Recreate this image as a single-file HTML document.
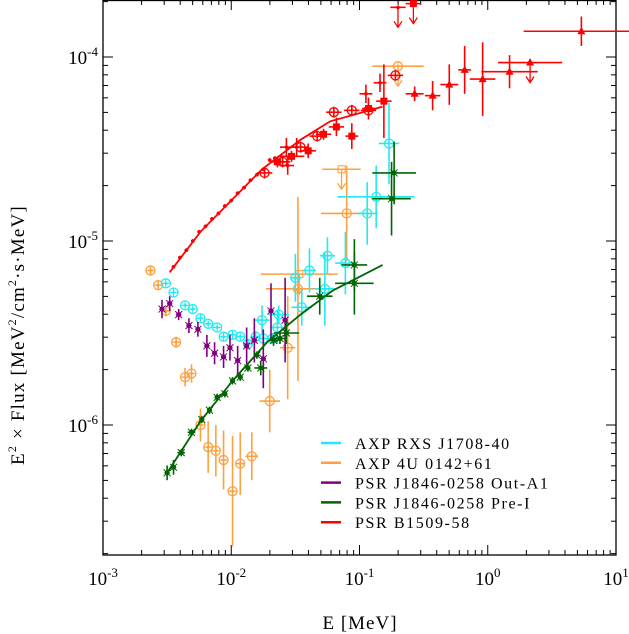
<!DOCTYPE html>
<html><head><meta charset="utf-8">
<style>
body{margin:0;background:#fff;}
svg{display:block;font-family:"Liberation Serif",serif;}
</style></head>
<body>
<svg id="chart" width="629" height="634" viewBox="0 0 629 634"></svg>
<script>
// ---- data (log10 E [MeV], log10 E^2 Flux) ----
const redCurveE=[-2.48,-2.24,-2.00,-1.76,-1.46,-1.23,-0.82];
const redCurveF=[-5.17,-4.95,-4.78,-4.61,-4.45,-4.35,-4.27];
const redDotE=[-2.45,-2.40,-2.35,-2.30,-2.25,-2.20,-2.15,-2.10,-2.05,-2.00,-1.95,-1.90,-1.85,-1.80,-1.75,-1.70,-1.66];
const redDotF=[-5.14,-5.09,-5.05,-5.00,-4.95,-4.92,-4.88,-4.85,-4.81,-4.78,-4.74,-4.71,-4.67,-4.64,-4.61,-4.56,-4.55];
const redSqE=[-1.64,-1.53,-1.40,-1.28,-1.18,-1.06,-0.93,-0.81];
const redSqF=[-4.57,-4.54,-4.51,-4.42,-4.38,-4.43,-4.28,-4.24];
const redSqEx=[0.06,0.1,0.06,0.06,0.06,0.05,0.05,0.06];
const redSqEy=[0.03,0.03,0.04,0.03,0.05,0.07,0.06,0.2];
const redTriE=[-0.57,-0.43,-0.30,-0.18,-0.04,0.17,0.73];
const redTriF=[-4.20,-4.21,-4.15,-4.07,-4.12,-4.08,-3.86];
const redTriEx=[0.07,0.06,0.07,0.05,0.1,0.22,0.45];
const redTriEy=[0.04,0.08,0.11,0.13,0.2,0.09,0.08];
const redCrE=[-1.49,-1.57,-1.56,-0.95,-0.84];
const redCrF=[-4.49,-4.49,-4.59,-4.20,-4.14];
const redCircE=[-1.74,-1.60,-1.46,-1.33,-1.20,-1.06,-0.93,-0.72];
const redCircF=[-4.63,-4.57,-4.49,-4.43,-4.30,-4.29,-4.29,-4.10];
const redULE=[-0.58,-0.70,0.33];
const redULF=[-3.71,-3.73,-4.03];

const cyanE=[-2.51,-2.45,-2.36,-2.30,-2.24,-2.18,-2.11,-2.06,-1.99,-1.93,-1.87,-1.81,-1.75,-1.68,-1.76,-1.63,-1.64,-1.50,-1.45,-1.39,-1.25,-1.27,-1.11,-0.94,-0.87,-0.77];
const cyanF=[-5.23,-5.28,-5.35,-5.37,-5.42,-5.45,-5.47,-5.52,-5.51,-5.52,-5.56,-5.52,-5.53,-5.53,-5.43,-5.40,-5.47,-5.20,-5.36,-5.16,-5.08,-5.26,-5.12,-4.85,-4.76,-4.47];
const cyanEx=[0.02,0.02,0.02,0.02,0.02,0.02,0.02,0.02,0.02,0.02,0.03,0.03,0.03,0.03,0.06,0.08,0.05,0.04,0.08,0.05,0.06,0.08,0.08,0.08,0.3,0.08];
const cyanEy=[0.01,0.01,0.01,0.01,0.01,0.01,0.01,0.01,0.01,0.01,0.03,0.03,0.03,0.03,0.08,0.05,0.09,0.13,0.1,0.12,0.1,0.2,0.17,0.17,0.17,0.22];

const orangeE=[-2.63,-2.57,-2.51,-2.43,-2.36,-2.31,-2.24,-2.18,-2.12,-2.06,-1.99,-1.93,-1.84,-1.70,-1.56,-1.48,-1.10];
const orangeF=[-5.16,-5.24,-5.38,-5.55,-5.74,-5.72,-6.00,-6.12,-6.14,-6.19,-6.36,-6.21,-6.17,-5.87,-5.58,-5.26,-4.85];
const orangeEx=[0.02,0.02,0.03,0.02,0.02,0.02,0.02,0.02,0.02,0.02,0.02,0.03,0.05,0.08,0.06,0.25,0.2];
const orangeEy=[0.02,0.02,0.03,0.03,0.05,0.05,0.09,0.14,0.14,0.16,0.3,0.17,0.13,0.17,0.28,0.5,0.26];
const orangeULE=[-1.47,-1.14,-0.70];
const orangeULF=[-5.18,-4.61,-4.05];
const orangeULEx=[0.3,0.15,0.2];

const purpleE=[-2.54,-2.48,-2.41,-2.33,-2.26,-2.19,-2.13,-2.06,-2.01,-1.95,-1.88,-1.82,-1.75,-1.69,-1.58];
const purpleF=[-5.37,-5.34,-5.40,-5.46,-5.48,-5.57,-5.61,-5.63,-5.58,-5.65,-5.57,-5.54,-5.64,-5.38,-5.43];
const purpleEy=[0.05,0.04,0.03,0.04,0.04,0.06,0.06,0.06,0.07,0.08,0.1,0.12,0.16,0.15,0.23];

const greenE=[-2.50,-2.45,-2.39,-2.31,-2.23,-2.17,-2.11,-2.05,-1.99,-1.93,-1.87,-1.80,-1.77,-1.67,-1.62,-1.57,-1.31,-1.04,-1.04,-0.75,-0.73];
const greenF=[-6.26,-6.23,-6.15,-6.04,-5.97,-5.92,-5.85,-5.83,-5.76,-5.74,-5.69,-5.62,-5.69,-5.54,-5.53,-5.50,-5.30,-5.13,-5.23,-4.77,-4.63];
const greenEx=[0.02,0.02,0.03,0.03,0.02,0.02,0.02,0.02,0.02,0.02,0.02,0.02,0.05,0.03,0.05,0.1,0.1,0.1,0.15,0.15,0.17];
const greenEy=[0.04,0.04,0.02,0.02,0.02,0.02,0.02,0.02,0.02,0.02,0.02,0.02,0.04,0.03,0.03,0.06,0.1,0.14,0.17,0.2,0.17];
const greenCurveE=[-2.50,-2.24,-1.99,-1.72,-1.46,-1.21,-0.82];
const greenCurveF=[-6.26,-5.98,-5.76,-5.55,-5.40,-5.27,-5.13];

const xTickExp=[-3,-2,-1,0,1];
const yTickExp=[-4,-5,-6];
const legendLabels=["AXP RXS J1708-40","AXP 4U 0142+61","PSR J1846-0258 Out-A1","PSR J1846-0258 Pre-I","PSR B1509-58"];
const legendColors=["#22eaf0","#ffa040","#800080","#006400","#ff0000"];

// ---- axes ----
const L=103,R=616,T=0,B=555;
const X=le=>L+128.25*(le+3);
const Y=lf=>57-184*(lf+4);
const NS="http://www.w3.org/2000/svg";
const svg=document.getElementById('chart');
function mk(tag,attrs,parent){const e=document.createElementNS(NS,tag);for(const k in attrs)e.setAttribute(k,attrs[k]);(parent||svg).appendChild(e);return e;}

const frame=mk('rect',{x:L,y:T+0.5,width:R-L,height:B-T-0.5,fill:'none',stroke:'#000','stroke-width':1.3});



const axG=mk('g',{stroke:'#000','stroke-width':1});


for(let d=-3;d<1;d++){for(let k=1;k<10;k++){const x=X(d+Math.log10(k));const len=k==1?10:5;
 mk('line',{x1:x,y1:B,x2:x,y2:B-len},axG);mk('line',{x1:x,y1:T,x2:x,y2:T+len},axG);}}
for(let d=-7;d<-3;d++){for(let k=1;k<10;k++){const y=Y(d+Math.log10(k));if(y<T||y>B)continue;const len=k==1?10:5;
 mk('line',{x1:L,y1:y,x2:L+len,y2:y},axG);mk('line',{x1:R,y1:y,x2:R-len,y2:y},axG);}}

const TS='font-size:19px;';
xTickExp.forEach(p=>{const t=mk('text',{x:X(p),y:585,'text-anchor':'middle',fill:'#000',style:TS});
 
 
 t.innerHTML='10<tspan dy="-8" font-size="13">'+p+'</tspan>';});
yTickExp.forEach(p=>{const t=mk('text',{x:98,y:Y(p)+7,'text-anchor':'end',fill:'#000',style:TS});
 
 
 t.innerHTML='10<tspan dy="-8" font-size="13">'+p+'</tspan>';});
const xt=mk('text',{x:360,y:629,'text-anchor':'middle',fill:'#000',style:'font-size:19px;letter-spacing:1px'});


xt.textContent='E [MeV]';
const yt=mk('text',{x:0,y:0,'text-anchor':'middle',fill:'#000',style:'font-size:19px;letter-spacing:1.2px',transform:'translate(24,335) rotate(-90)'});


yt.innerHTML='E<tspan dy="-8" font-size="12">2</tspan><tspan dy="8"> × Flux [MeV</tspan><tspan dy="-8" font-size="12">2</tspan><tspan dy="8">/cm</tspan><tspan dy="-8" font-size="12">2</tspan><tspan dy="8">·s·MeV]</tspan>';

// ---- drawing helpers ----
function line(es,fs,color,name){const p=mk('polyline',{points:es.map((e,i)=>X(e)+','+Y(fs[i])).join(' '),fill:'none',stroke:color,'stroke-width':1.8});
 
 }
function err(g,e,f,ex,ey,color){
 if(ex>0)mk('line',{x1:X(e-ex),y1:Y(f),x2:X(e+ex),y2:Y(f),stroke:color,'stroke-width':1.6},g);
 if(ey>0)mk('line',{x1:X(e),y1:Y(f-ey),x2:X(e),y2:Y(f+ey),stroke:color,'stroke-width':1.6},g);}
function marker(g,type,x,y,color){
 if(type==='circ'){mk('circle',{cx:x,cy:y,r:4.5,fill:'none',stroke:color,'stroke-width':1.3},g);
  mk('line',{x1:x-4.5,y1:y,x2:x+4.5,y2:y,stroke:color},g);mk('line',{x1:x,y1:y-4.5,x2:x,y2:y+4.5,stroke:color},g);}
 else if(type==='sq')mk('rect',{x:x-3.5,y:y-3.5,width:7,height:7,fill:color},g);
 else if(type==='osq')mk('rect',{x:x-3.5,y:y-3.5,width:7,height:7,fill:'none',stroke:color},g);
 else if(type==='tri')mk('polygon',{points:`${x},${y-4.5} ${x-4},${y+3} ${x+4},${y+3}`,fill:color},g);
 else if(type==='star'){mk('circle',{cx:x,cy:y,r:2.5,fill:color},g);
  mk('line',{x1:x-3.5,y1:y-3.5,x2:x+3.5,y2:y+3.5,stroke:color},g);mk('line',{x1:x+3.5,y1:y-3.5,x2:x-3.5,y2:y+3.5,stroke:color},g);}
 else if(type==='dot')mk('circle',{cx:x,cy:y,r:1.8,fill:color},g);}
function arrow(g,x,y,color){mk('line',{x1:x,y1:y,x2:x,y2:y+20,stroke:color,'stroke-width':1.3},g);
 mk('polyline',{points:`${x-4},${y+14} ${x},${y+20} ${x+4},${y+14}`,fill:'none',stroke:color,'stroke-width':1.3},g);}
function series(name,color,es,fs,exs,eys,type){const g=mk('g',{});
 
 
 es.forEach((e,i)=>{err(g,e,fs[i],exs?exs[i]:0.02,eys?eys[i]:0.02,color);marker(g,type,X(e),Y(fs[i]),color);});return g;}

// ---- series ----
const ORG='#ffa040',CY='#22eaf0',PU='#800080',GR='#006400',RD='#ff0000';
series('orange-points',ORG,orangeE,orangeF,orangeEx,orangeEy,'circ');
const og=mk('g',{});


orangeULE.forEach((e,i)=>{err(og,e,orangeULF[i],orangeULEx[i],0,ORG);marker(og,i==2?'circ':'osq',X(e),Y(orangeULF[i]),ORG);arrow(og,X(e),Y(orangeULF[i]),ORG);});
series('cyan-points',CY,cyanE,cyanF,cyanEx,cyanEy,'circ');
series('purple-points',PU,purpleE,purpleF,null,purpleEy,'star');
series('green-points',GR,greenE,greenF,greenEx,greenEy,'star');
line(greenCurveE,greenCurveF,GR,'green-model-curve');
line(redCurveE,redCurveF,RD,'red-model-curve');
series('red-dots',RD,redDotE,redDotF,redDotE.map(()=>0.015),redDotE.map(()=>0.01),'dot');
series('red-squares',RD,redSqE,redSqF,redSqEx,redSqEy,'sq');
series('red-triangles',RD,redTriE,redTriF,redTriEx,redTriEy,'tri');
series('red-crosses',RD,redCrE,redCrF,redCrE.map(()=>0.05),redCrE.map(()=>0.05),'dot');
series('red-circles',RD,redCircE,redCircF,redCircE.map(()=>0.06),redCircE.map(()=>0.03),'circ');
const rg=mk('g',{});


redULE.forEach((e,i)=>{err(rg,e,redULF[i],i==2?0.25:0.06,0,RD);marker(rg,i==0?'sq':(i==2?'tri':'dot'),X(e),Y(redULF[i]),RD);arrow(rg,X(e),Y(redULF[i]),RD);});

// ---- legend ----
const lg=mk('g',{});


legendLabels.forEach((lab,i)=>{const y=443+19.8*i;
 const ent=mk('g',{},lg);
 
 
 mk('line',{x1:321,y1:y,x2:341,y2:y,stroke:legendColors[i],'stroke-width':2.5},ent);
 const t=mk('text',{x:355,y:y+6,fill:'#000',style:'font-size:16px;letter-spacing:1.6px'},ent);t.textContent=lab;});
</script>
</body></html>
